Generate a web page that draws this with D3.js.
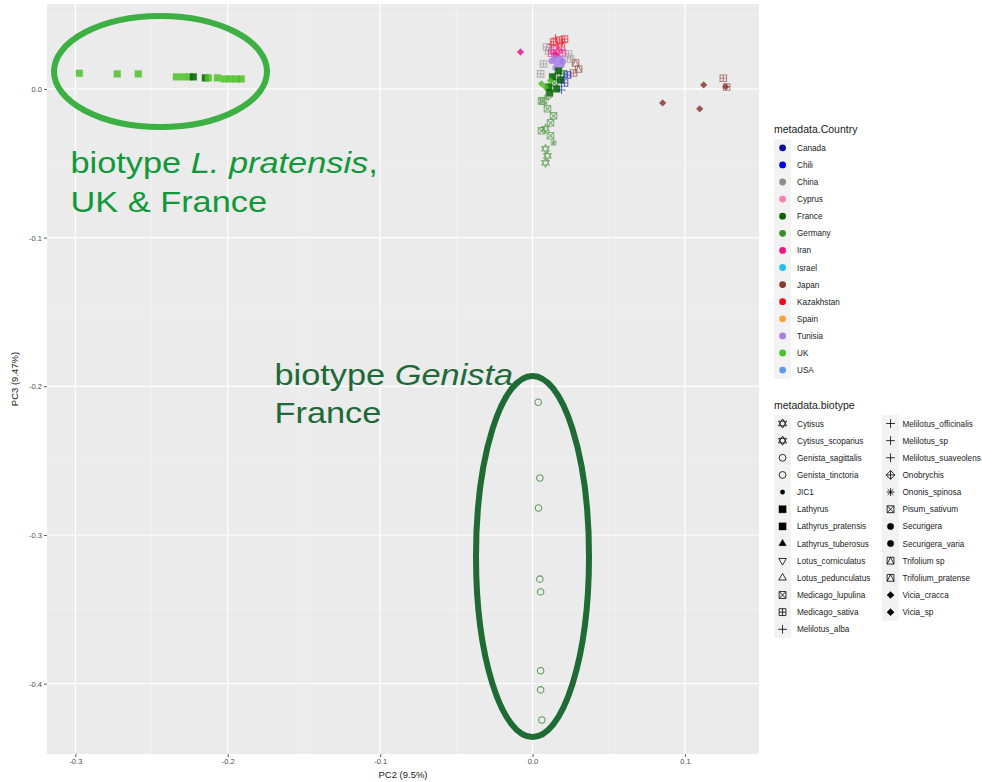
<!DOCTYPE html>
<html>
<head>
<meta charset="utf-8">
<script src="https://cdn.jsdelivr.net/npm/d3@7"></script>
<style>
  html, body { margin: 0; padding: 0; background: #ffffff; }
  svg { display: block; font-family: "Liberation Sans", Arial, sans-serif; }
</style>
</head>
<body>
<svg id="chart" width="982" height="782"></svg>
<script>
// ---- categories ----
const countries = ["Canada", "Chili", "China", "Cyprus", "France", "Germany", "Iran",
  "Israel", "Japan", "Kazakhstan", "Spain", "Tunisia", "UK", "USA"];
const countryColors = ["#0a0a9e", "#0000ee", "#8c8c8c", "#ff7eb6", "#006400", "#3d8b2f",
  "#f0148c", "#1ec0f0", "#8b3a2e", "#ee0a1a", "#ffa030", "#a57ee6", "#4ec12a", "#6495ed"];

const biotypes = ["Cytisus", "Cytisus_scoparius", "Genista_sagittalis", "Genista_tinctoria",
  "JIC1", "Lathyrus", "Lathyrus_pratensis", "Lathyrus_tuberosus", "Lotus_corniculatus",
  "Lotus_pedunculatus", "Medicago_lupulina", "Medicago_sativa", "Melilotus_alba",
  "Melilotus_officinalis", "Melilotus_sp", "Melilotus_suaveolens", "Onobrychis",
  "Ononis_spinosa", "Pisum_sativum", "Securigera", "Securigera_varia", "Trifolium sp",
  "Trifolium_pratense", "Vicia_cracca", "Vicia_sp"];
// R point-shape codes used for each biotype
const biotypeShapes = [11, 11, 1, 1, 20, 15, 15, 17, 6, 2, 7, 12, 3, 3, 3, 3, 9, 8, 7, 19, 19, 14, 14, 18, 18];

// ---- axis ticks ----
const xTicks = [-0.3, -0.2, -0.1, 0.0, 0.1];
const yTicks = [0.0, -0.1, -0.2, -0.3, -0.4];
const xLabel = "PC2 (9.5%)";
const yLabel = "PC3 (9.47%)";

// ---- samples: [PC2, PC3, country, biotype] ----
const lPratensisSamples = [
  [-0.2974, 0.0105, "UK", "Lathyrus_pratensis"],
  [-0.2725, 0.0101, "UK", "Lathyrus_pratensis"],
  [-0.2587, 0.0101, "UK", "Lathyrus_pratensis"],
  [-0.2337, 0.0081, "UK", "Lathyrus_pratensis"],
  [-0.2292, 0.0081, "UK", "Lathyrus_pratensis"],
  [-0.2252, 0.0081, "UK", "Lathyrus_pratensis"],
  [-0.2226, 0.0081, "France", "Lathyrus_pratensis"],
  [-0.2147, 0.0074, "France", "Lathyrus_pratensis"],
  [-0.2127, 0.0074, "UK", "Lathyrus_pratensis"],
  [-0.2068, 0.0074, "UK", "Lathyrus_pratensis"],
  [-0.2022, 0.0067, "UK", "Lathyrus_pratensis"],
  [-0.1983, 0.0067, "UK", "Lathyrus_pratensis"],
  [-0.1943, 0.0067, "UK", "Lathyrus_pratensis"],
  [-0.1911, 0.0067, "UK", "Lathyrus_pratensis"]
];

const genistaSamples = [
  [0.0037, -0.2107, "France", "Genista_tinctoria"],
  [0.0048, -0.2617, "France", "Genista_tinctoria"],
  [0.0039, -0.2819, "France", "Genista_sagittalis"],
  [0.0048, -0.3297, "France", "Genista_tinctoria"],
  [0.0053, -0.3383, "France", "Genista_tinctoria"],
  [0.0053, -0.3913, "France", "Genista_sagittalis"],
  [0.0053, -0.4042, "France", "Genista_tinctoria"],
  [0.0061, -0.4244, "France", "Genista_tinctoria"]
];

const japanSamples = [
  [0.0854, -0.0094, "Japan", "Vicia_cracca"],
  [0.1097, -0.0134, "Japan", "Vicia_cracca"],
  [0.1123, 0.0027, "Japan", "Vicia_sp"],
  [0.1267, 0.0015, "Japan", "Vicia_cracca"],
  [0.1252, 0.0072, "Japan", "Medicago_sativa"],
  [0.1274, 0.0013, "Japan", "Medicago_sativa"]
];

const mainClusterSamples = [
  [-0.0079, 0.0248, "Iran", "Vicia_cracca"],
  [0.0092, 0.0282, "China", "Medicago_sativa"],
  [0.0105, 0.0255, "China", "Medicago_sativa"],
  [0.0236, 0.0235, "China", "Medicago_sativa"],
  [0.0250, 0.0201, "China", "Medicago_sativa"],
  [0.0072, 0.0168, "China", "Medicago_sativa"],
  [0.0053, 0.0101, "China", "Medicago_sativa"],
  [0.0164, 0.0087, "China", "Medicago_sativa"],
  [0.0151, 0.0342, "Kazakhstan", "Melilotus_officinalis"],
  [0.0177, 0.0329, "Kazakhstan", "Medicago_sativa"],
  [0.0197, 0.0315, "Kazakhstan", "Melilotus_officinalis"],
  [0.0138, 0.0315, "Kazakhstan", "Medicago_sativa"],
  [0.0164, 0.0295, "Kazakhstan", "Melilotus_sp"],
  [0.0190, 0.0282, "Kazakhstan", "Medicago_sativa"],
  [0.0210, 0.0335, "Kazakhstan", "Medicago_sativa"],
  [0.0125, 0.0298, "Kazakhstan", "Melilotus_sp"],
  [0.0138, 0.0262, "Iran", "Medicago_sativa"],
  [0.0171, 0.0255, "Iran", "Onobrychis"],
  [0.0197, 0.0242, "Iran", "Medicago_sativa"],
  [0.0151, 0.0228, "Iran", "Securigera_varia"],
  [0.0125, 0.0240, "Iran", "Medicago_sativa"],
  [0.0144, 0.0208, "Tunisia", "Securigera"],
  [0.0184, 0.0201, "Tunisia", "Securigera_varia"],
  [0.0158, 0.0174, "Tunisia", "Securigera"],
  [0.0190, 0.0161, "Tunisia", "Securigera_varia"],
  [0.0151, 0.0141, "Tunisia", "Securigera"],
  [0.0125, 0.0188, "Tunisia", "Securigera"],
  [0.0200, 0.0185, "Tunisia", "Securigera_varia"],
  [0.0282, 0.0174, "Japan", "Trifolium_pratense"],
  [0.0302, 0.0134, "Japan", "Trifolium sp"],
  [0.0269, 0.0107, "Japan", "Medicago_sativa"],
  [0.0171, 0.0121, "France", "Lathyrus"],
  [0.0204, 0.0101, "France", "Medicago_sativa"],
  [0.0131, 0.0081, "France", "Lathyrus"],
  [0.0184, 0.0060, "France", "Lathyrus"],
  [0.0144, 0.0040, "France", "Medicago_lupulina"],
  [0.0105, 0.0013, "France", "Lathyrus"],
  [0.0158, 0.0000, "France", "Lathyrus"],
  [0.0112, -0.0027, "France", "Lathyrus"],
  [0.0230, 0.0094, "Chili", "Medicago_sativa"],
  [0.0210, 0.0040, "Canada", "Medicago_sativa"],
  [0.0190, -0.0007, "Canada", "Melilotus_alba"],
  [0.0059, 0.0034, "UK", "Vicia_sp"],
  [0.0118, 0.0054, "UK", "Vicia_cracca"],
  [0.0085, 0.0013, "UK", "Vicia_sp"],
  [0.0105, -0.0047, "Germany", "Onobrychis"],
  [0.0072, -0.0081, "Germany", "Medicago_lupulina"],
  [0.0059, -0.0081, "Germany", "Medicago_lupulina"],
  [0.0098, -0.0134, "Germany", "Medicago_lupulina"],
  [0.0138, -0.0181, "Germany", "Medicago_lupulina"],
  [0.0118, -0.0228, "Germany", "Pisum_sativum"],
  [0.0085, -0.0268, "Germany", "Cytisus"],
  [0.0059, -0.0282, "Germany", "Medicago_lupulina"],
  [0.0118, -0.0315, "Germany", "Medicago_lupulina"],
  [0.0138, -0.0362, "Germany", "Ononis_spinosa"],
  [0.0085, -0.0403, "Germany", "Cytisus"],
  [0.0098, -0.0450, "Germany", "Cytisus_scoparius"],
  [0.0085, -0.0497, "Germany", "Cytisus_scoparius"]
];

const samples = [...mainClusterSamples, ...japanSamples, ...lPratensisSamples, ...genistaSamples];

// ---- layout ----
const svg = d3.select("#chart");
const panel = { left: 47, right: 759, top: 4, bottom: 754 };

const x = d3.scaleLinear().domain([-0.3186, 0.1486]).range([panel.left, panel.right]);
const y = d3.scaleLinear().domain([-0.4473, 0.0571]).range([panel.bottom, panel.top]);

const color = d3.scaleOrdinal().domain(countries).range(countryColors);
const shapeOf = d3.scaleOrdinal().domain(biotypes).range(biotypeShapes);

// R-style point glyphs, centred on 0,0
function glyph(code, r) {
  const c = (rr) => `M${rr},0A${rr},${rr} 0 1,1 ${-rr},0A${rr},${rr} 0 1,1 ${rr},0Z`;
  const sq = (s) => `M${-s},${-s}H${s}V${s}H${-s}Z`;
  const triUp = (s) => `M0,${-s * 1.15}L${s},${s * 0.58}L${-s},${s * 0.58}Z`;
  const triDn = (s) => `M0,${s * 1.15}L${s},${-s * 0.58}L${-s},${-s * 0.58}Z`;
  const plus = (s) => `M${-s},0H${s}M0,${-s}V${s}`;
  const cross = (s) => `M${-s},${-s}L${s},${s}M${-s},${s}L${s},${-s}`;
  const dia = (s) => `M0,${-s}L${s},0L0,${s}L${-s},0Z`;
  switch (code) {
    case 1: return { d: c(r * 0.9), fill: false };
    case 2: return { d: triUp(r), fill: false };
    case 3: return { d: plus(r * 1.15), fill: false };
    case 6: return { d: triDn(r), fill: false };
    case 7: return { d: sq(r * 0.9) + cross(r * 0.9), fill: false };
    case 8: return { d: plus(r * 1.05) + cross(r * 0.75), fill: false };
    case 9: return { d: dia(r * 1.15) + plus(r * 1.15), fill: false };
    case 11: return { d: triUp(r * 1.05) + triDn(r * 1.05), fill: false };
    case 12: return { d: sq(r * 0.9) + plus(r * 0.9), fill: false };
    case 14: return { d: sq(r * 0.9) + `M${-r * 0.9},${r * 0.9}L0,${-r * 0.9}L${r * 0.9},${r * 0.9}`, fill: false };
    case 15: return { d: sq(r * 0.95), fill: true };
    case 17: return { d: triUp(r), fill: true };
    case 18: return { d: dia(r * 0.95), fill: true };
    case 19: return { d: c(r * 0.85), fill: true };
    case 20: return { d: c(r * 0.6), fill: true };
    default: return { d: c(r), fill: true };
  }
}

// ---- panel & grid ----
svg.append("rect")
  .attr("x", panel.left).attr("y", panel.top)
  .attr("width", panel.right - panel.left).attr("height", panel.bottom - panel.top)
  .attr("fill", "#ebebeb");

const minorX = xTicks.map(v => v - 0.05).concat([0.15]).filter(v => v > x.domain()[0] && v < x.domain()[1]);
const minorY = yTicks.map(v => v + 0.05).concat([-0.45]).filter(v => v > y.domain()[0] && v < y.domain()[1]);

const grid = svg.append("g");
grid.selectAll("line.mx").data(minorX).join("line")
  .attr("x1", d => x(d)).attr("x2", d => x(d)).attr("y1", panel.top).attr("y2", panel.bottom)
  .attr("stroke", "#f5f5f5").attr("stroke-width", 0.6);
grid.selectAll("line.my").data(minorY).join("line")
  .attr("y1", d => y(d)).attr("y2", d => y(d)).attr("x1", panel.left).attr("x2", panel.right)
  .attr("stroke", "#f5f5f5").attr("stroke-width", 0.6);
grid.selectAll("line.gx").data(xTicks).join("line")
  .attr("x1", d => x(d)).attr("x2", d => x(d)).attr("y1", panel.top).attr("y2", panel.bottom)
  .attr("stroke", "#ffffff").attr("stroke-width", 1.2);
grid.selectAll("line.gy").data(yTicks).join("line")
  .attr("y1", d => y(d)).attr("y2", d => y(d)).attr("x1", panel.left).attr("x2", panel.right)
  .attr("stroke", "#ffffff").attr("stroke-width", 1.2);

// ---- axes ----
const fmt = d => d.toFixed(1);
const xAxis = svg.append("g").attr("transform", `translate(0,${panel.bottom})`)
  .call(d3.axisBottom(x).tickValues(xTicks).tickFormat(fmt).tickSize(3).tickPadding(2));
const yAxis = svg.append("g").attr("transform", `translate(${panel.left},0)`)
  .call(d3.axisLeft(y).tickValues(yTicks).tickFormat(fmt).tickSize(3).tickPadding(2));
[xAxis, yAxis].forEach(a => {
  a.select(".domain").remove();
  a.selectAll(".tick line").attr("stroke", "#333333").attr("stroke-width", 0.8);
  a.selectAll(".tick text").attr("fill", "#4d4d4d").attr("font-size", 7.5)
    .attr("font-family", "Liberation Sans, Arial, sans-serif");
});

svg.append("text").attr("x", (panel.left + panel.right) / 2).attr("y", 778)
  .attr("text-anchor", "middle").attr("font-size", 9.5).attr("fill", "#1a1a1a").text(xLabel);
svg.append("text").attr("transform", `translate(18,${(panel.top + panel.bottom) / 2}) rotate(-90)`)
  .attr("text-anchor", "middle").attr("font-size", 9.5).attr("fill", "#1a1a1a").text(yLabel);

// ---- points ----
const pts = svg.append("g");
samples.forEach(([pc2, pc3, country, bt]) => {
  const g = glyph(shapeOf(bt), 3.6);
  pts.append("path")
    .attr("transform", `translate(${x(pc2)},${y(pc3)})`)
    .attr("d", g.d)
    .attr("fill", g.fill ? color(country) : "none")
    .attr("stroke", color(country))
    .attr("stroke-width", g.fill ? 0.3 : 1.1)
    .attr("opacity", g.fill ? 0.85 : 0.6);
});

// ---- legends ----
const leg = svg.append("g").attr("font-size", 8.2).attr("fill", "#1a1a1a");
const keyH = 17.1;

leg.append("text").attr("x", 774).attr("y", 133).attr("font-size", 10.5).text("metadata.Country");
countries.forEach((c, i) => {
  const cy = 147.8 + i * keyH;
  leg.append("rect").attr("x", 774).attr("y", cy - keyH / 2).attr("width", keyH).attr("height", keyH).attr("fill", "#f2f2f2");
  leg.append("circle").attr("cx", 782.6).attr("cy", cy).attr("r", 3.4).attr("fill", color(c));
  leg.append("text").attr("x", 797).attr("y", cy + 3).text(c);
});

leg.append("text").attr("x", 774).attr("y", 409).attr("font-size", 10.5).text("metadata.biotype");
const perCol = 13;
biotypes.forEach((b, i) => {
  const col = Math.floor(i / perCol), row = i % perCol;
  const cy = 423.5 + row * 17.15;
  const kx = col === 0 ? 774 : 882;
  const lx = col === 0 ? 797 : 902.5;
  leg.append("rect").attr("x", kx).attr("y", cy - keyH / 2).attr("width", keyH).attr("height", keyH).attr("fill", "#f2f2f2");
  const g = glyph(shapeOf(b), 3.8);
  leg.append("path").attr("transform", `translate(${kx + keyH / 2},${cy})`).attr("d", g.d)
    .attr("fill", g.fill ? "#000" : "none").attr("stroke", "#000").attr("stroke-width", g.fill ? 0.3 : 0.8);
  leg.append("text").attr("x", lx).attr("y", cy + 3).text(b);
});

// ---- annotations ----
const ann = svg.append("g");
ann.append("ellipse").attr("cx", 160.5).attr("cy", 71.5).attr("rx", 106.5).attr("ry", 55.5)
  .attr("fill", "none").attr("stroke", "#3cb043").attr("stroke-width", 6);
ann.append("ellipse").attr("cx", 532.5).attr("cy", 556.5).attr("rx", 56.5).attr("ry", 180.5)
  .attr("fill", "none").attr("stroke", "#1f6b35").attr("stroke-width", 6);

// annotation text is set slightly wide
const stretch = 1.145;
function note(xp, yp, fill, parts) {
  const t = ann.append("text")
    .attr("transform", `translate(${xp},${yp}) scale(${stretch},1)`)
    .attr("font-size", 30).attr("fill", fill);
  parts.forEach(([txt, it]) => t.append("tspan").attr("font-style", it ? "italic" : "normal").text(txt));
}
note(70.5, 173, "#10993a", [["biotype ", false], ["L. pratensis", true], [",", false]]);
note(70.5, 212, "#10993a", [["UK & France", false]]);
note(274.5, 385, "#1d6a38", [["biotype ", false], ["Genista", true]]);
note(274.5, 423, "#1d6a38", [["France", false]]);
</script>
</body>
</html>
